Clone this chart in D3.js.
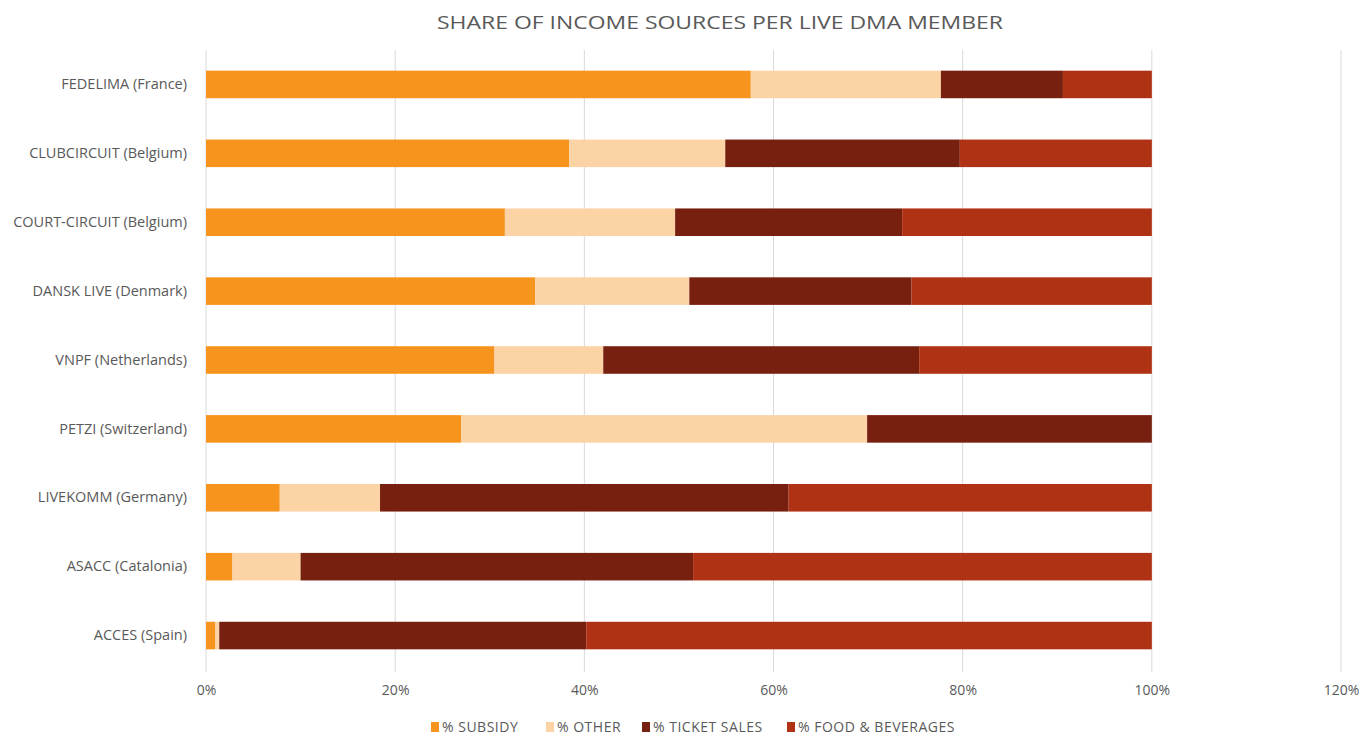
<!DOCTYPE html>
<html><head><meta charset="utf-8">
<script src="https://cdn.jsdelivr.net/npm/d3@7"></script>
<style>body{margin:0;background:#fff;} svg{display:block;}</style>
</head><body>
<script>
const categories = ["FEDELIMA (France)","CLUBCIRCUIT (Belgium)","COURT-CIRCUIT (Belgium)","DANSK LIVE (Denmark)","VNPF (Netherlands)","PETZI (Switzerland)","LIVEKOMM (Germany)","ASACC (Catalonia)","ACCES (Spain)"];
const subsidy = [57.6, 38.4, 31.6, 34.8, 30.5, 27.0, 7.8, 2.8, 1.0];
const other   = [20.1, 16.5, 18.0, 16.3, 11.5, 42.9, 10.6, 7.2, 0.4];
const ticket  = [12.9, 24.8, 24.0, 23.5, 33.4, 30.1, 43.2, 41.5, 38.8];
const food    = [9.4, 20.3, 26.4, 25.4, 24.6, 0.0, 38.4, 48.5, 59.8];
const seriesNames = ["% SUBSIDY","% OTHER","% TICKET SALES","% FOOD & BEVERAGES"];
const seriesColors = ["#F7941D","#FBD3A5","#78200F","#B03214"];
const tickValues = [0,20,40,60,80,100,120];
const title = "SHARE OF INCOME SOURCES PER LIVE DMA MEMBER";

const W = 1364, H = 735;
const svg = d3.select("body").append("svg").attr("width", W).attr("height", H);
const font = "'Open Sans', 'Liberation Sans', sans-serif";

const x = d3.scaleLinear().domain([0,120]).range([206,1341]);
const y = d3.scaleBand().domain(categories).range([50,670]).paddingInner(0.6).paddingOuter(0.3);

// gridlines
svg.append("g").selectAll("line").data(tickValues).join("line")
  .attr("x1", d=>x(d)).attr("x2", d=>x(d)).attr("y1", 50).attr("y2", 672)
  .attr("stroke", "#D9D9D9").attr("stroke-width", 1);

// title
svg.append("text").attr("x", 720).attr("y", 29).attr("text-anchor","middle")
  .attr("font-family", font).attr("font-size", 19).attr("fill","#595959")
  .attr("textLength", 566).attr("lengthAdjust","spacingAndGlyphs").text(title);

// stacked data
const rows = categories.map((c,i)=>({cat:c, vals:[subsidy[i],other[i],ticket[i],food[i]]}));
const stackKeys = [0,1,2,3];
const stack = d3.stack().keys(stackKeys).value((d,k)=>d.vals[k]);
const stacked = stack(rows);

svg.append("g").selectAll("g").data(stacked).join("g")
  .attr("fill", (d,i)=>seriesColors[i])
  .selectAll("rect").data(d=>d).join("rect")
  .attr("x", d=>x(d[0])).attr("width", d=>Math.max(0, x(d[1])-x(d[0])))
  .attr("y", d=>y(d.data.cat)).attr("height", y.bandwidth());

// y axis labels
const yAxis = d3.axisLeft(y).tickSize(0).tickPadding(19);
const gy = svg.append("g").attr("transform", `translate(206,0)`).call(yAxis);
gy.select(".domain").remove();
gy.selectAll("text").attr("font-family", font).attr("font-size", 14.5).attr("fill","#595959");

// x axis labels
const xAxis = d3.axisBottom(x).tickValues(tickValues).tickFormat(d=>d+"%").tickSize(0).tickPadding(12);
const gx = svg.append("g").attr("transform", `translate(0,673)`).call(xAxis);
gx.select(".domain").remove();
gx.selectAll("text").attr("font-family", font).attr("font-size", 14).attr("fill","#595959");

// legend
const legendX = [431, 546, 642, 787];
const lg = svg.append("g").selectAll("g").data(seriesNames).join("g")
  .attr("transform", (d,i)=>`translate(${legendX[i]},722)`);
lg.append("rect").attr("x",0).attr("y",0).attr("width",8).attr("height",10)
  .attr("fill", (d,i)=>seriesColors[i]);
lg.append("text").attr("x", 11).attr("y", 10).attr("font-family", font).attr("font-size", 14)
  .attr("fill","#595959").attr("letter-spacing","0.5px").text(d=>d);
</script>
</body></html>
